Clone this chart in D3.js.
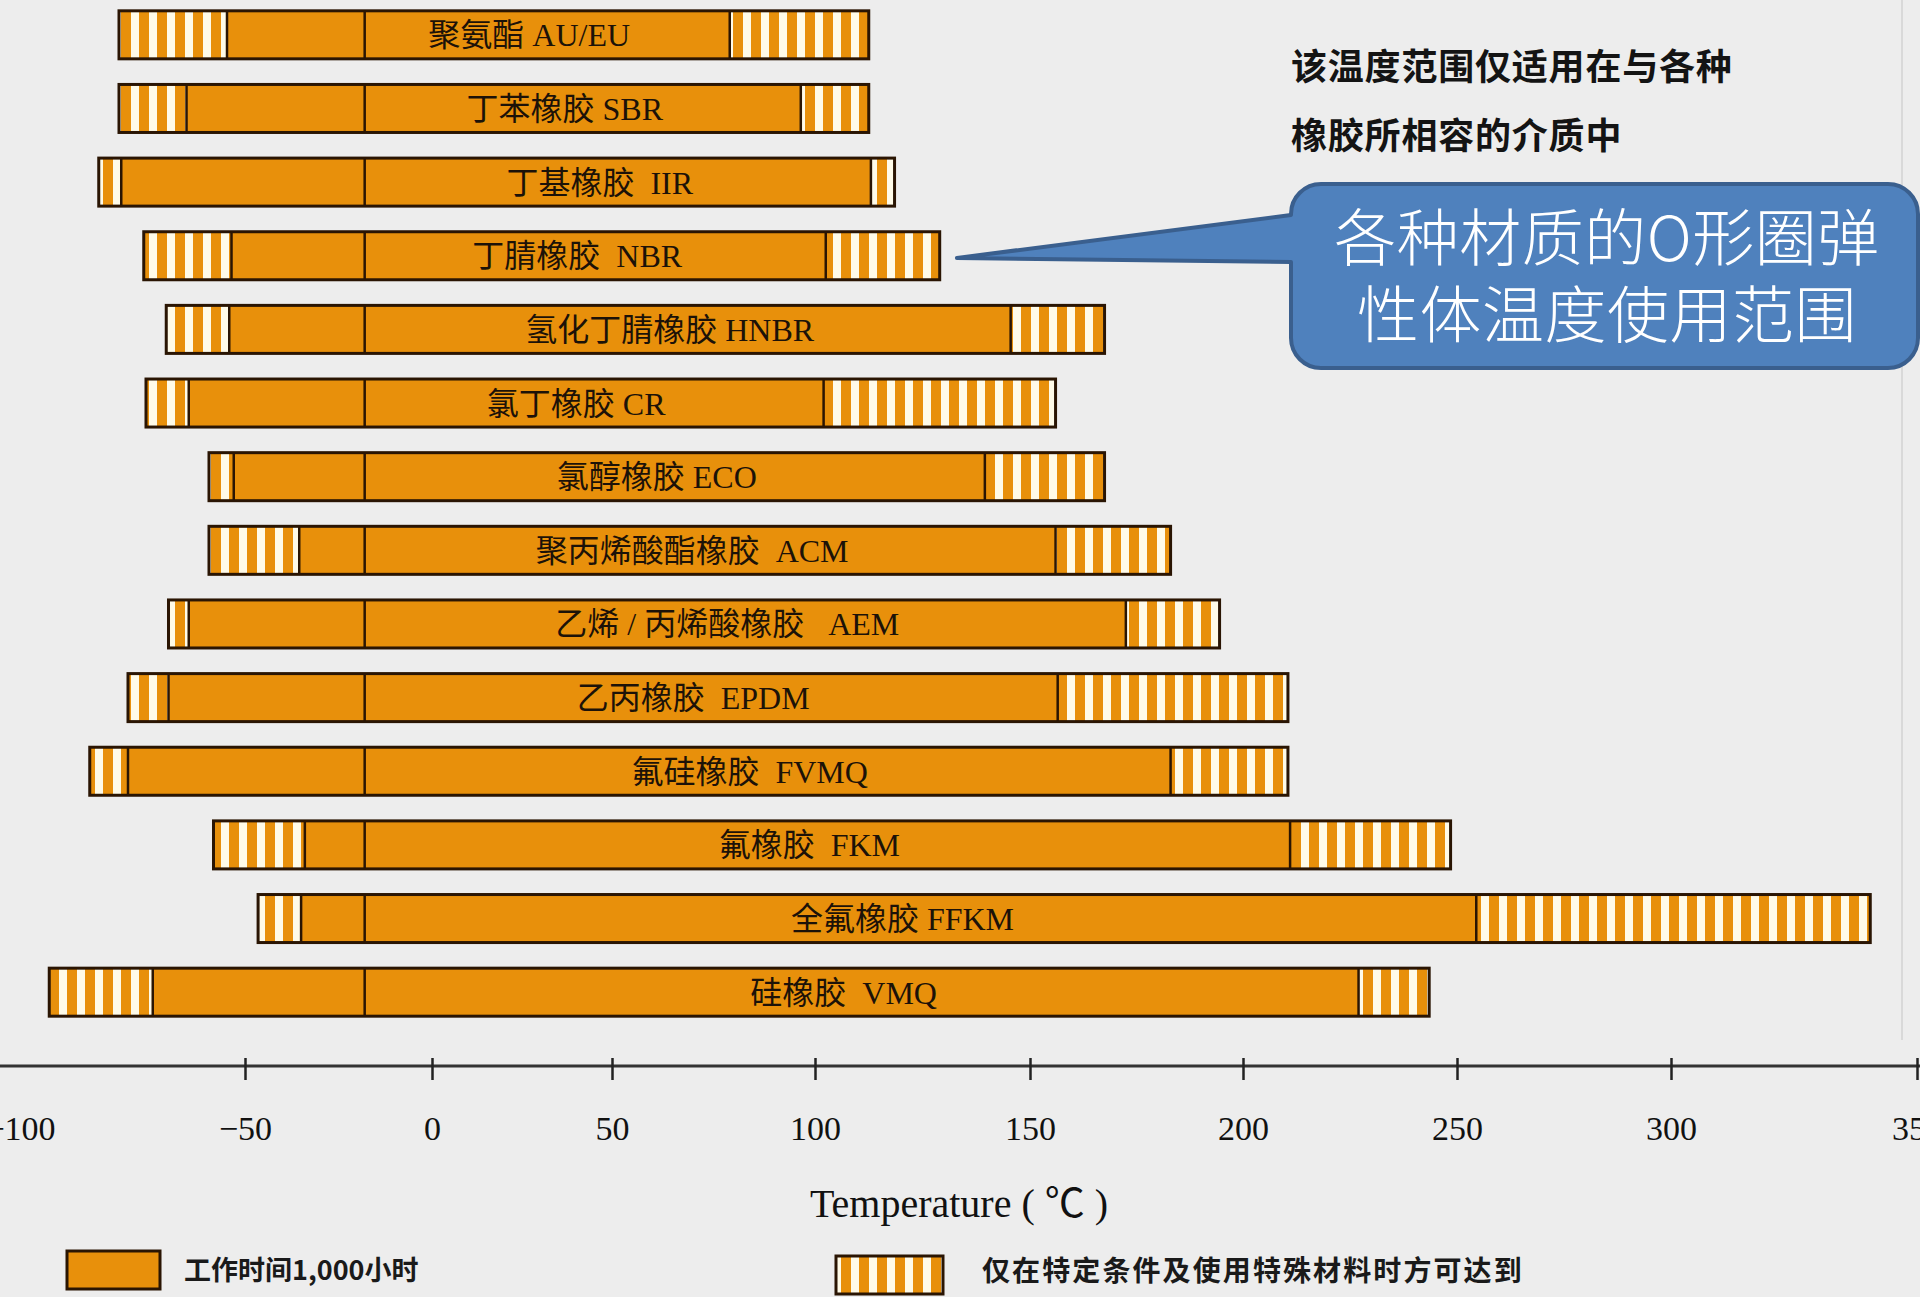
<!DOCTYPE html>
<html>
<head>
<meta charset="utf-8">
<script src="https://cdn.jsdelivr.net/npm/d3@7"></script>
<style>
  html, body { margin: 0; padding: 0; background: #ededed; }
  svg { display: block; }
  text { white-space: pre; }
</style>
</head>
<body>
<svg id="chart" width="1920" height="1297"></svg>
<script>
// O-ring elastomer temperature ranges (°C)
const materials = [
  "聚氨酯 AU/EU", "丁苯橡胶 SBR", "丁基橡胶  IIR", "丁腈橡胶  NBR",
  "氢化丁腈橡胶 HNBR", "氯丁橡胶 CR", "氯醇橡胶 ECO", "聚丙烯酸酯橡胶  ACM",
  "乙烯 / 丙烯酸橡胶   AEM", "乙丙橡胶  EPDM", "氟硅橡胶  FVMQ", "氟橡胶  FKM",
  "全氟橡胶 FFKM", "硅橡胶  VMQ"
];
// lowest temperature reachable only under special conditions
const specialLow  = [-78, -78, -82.5, -72.5, -67.5, -72, -58, -58, -67, -76, -84.5, -57, -46.5, -93.5];
// continuous working range (1,000 h)
const workLow     = [-54, -63, -77.5, -53, -53.5, -62.5, -52.5, -35.5, -62.5, -67, -76, -34, -35, -70.5];
const workHigh    = [79, 96.5, 113, 102.5, 145.5, 102, 139.5, 156, 172.5, 156.5, 183, 211, 254.5, 227];
// highest temperature reachable only under special conditions
const specialHigh = [112.5, 112.5, 118.5, 129, 167.5, 156, 167.5, 183, 194.5, 210.5, 210.5, 248.5, 340.5, 243.5];
// reference line drawn through every bar
const markTemp = -18;

const tickValues = [-100, -50, 0, 50, 100, 150, 200, 250, 300, 350];
const axisTitle = "Temperature ( ℃ )";
const noteLines = ["该温度范围仅适用在与各种", "橡胶所相容的介质中"];
const calloutLines = ["各种材质的O形圈弹", "性体温度使用范围"];
const legendLabels = ["工作时间1,000小时", "仅在特定条件及使用特殊材料时方可达到"];

const ORANGE = "#e8900b";
const CREAM = "#fffbe8";
const INK = "#2a1503";

const svg = d3.select("#chart");

// hatch pattern for the special-condition segments
const defs = svg.append("defs");
const pat = defs.append("pattern")
  .attr("id", "hatch")
  .attr("patternUnits", "userSpaceOnUse")
  .attr("width", 18).attr("height", 20);
pat.append("rect").attr("width", 18).attr("height", 20).attr("fill", ORANGE);
pat.append("rect").attr("x", 5).attr("width", 8).attr("height", 20).attr("fill", CREAM);

// the printed temperature axis is not evenly spaced, so the scale is piecewise
const x = d3.scaleLinear()
  .domain(tickValues)
  .range([20, 245, 432, 612, 815, 1030, 1243, 1457, 1671, 1917]);

const y = d3.scaleBand()
  .domain(materials)
  .range([-2, 1029])
  .paddingInner(0.348)
  .paddingOuter(0.174);

const rows = materials.map((name, i) => ({
  name, lo: specialLow[i], wlo: workLow[i], whi: workHigh[i], hi: specialHigh[i]
}));

// faint frame line at the right
svg.append("line")
  .attr("x1", 1902).attr("x2", 1902).attr("y1", 0).attr("y2", 1040)
  .attr("stroke", "#d9d9d9").attr("stroke-width", 2);

const bars = svg.append("g").selectAll("g.bar")
  .data(rows).join("g").attr("class", "bar")
  .attr("transform", d => `translate(0,${y(d.name)})`);

const bh = y.bandwidth();

bars.append("rect")
  .attr("x", d => x(d.lo)).attr("width", d => x(d.hi) - x(d.lo))
  .attr("height", bh).attr("fill", ORANGE);

bars.append("rect")
  .attr("x", d => x(d.lo)).attr("width", d => x(d.wlo) - x(d.lo))
  .attr("height", bh).attr("fill", "url(#hatch)");

bars.append("rect")
  .attr("x", d => x(d.whi)).attr("width", d => x(d.hi) - x(d.whi))
  .attr("height", bh).attr("fill", "url(#hatch)");

bars.selectAll("line.sep")
  .data(d => [d.wlo, markTemp, d.whi])
  .join("line").attr("class", "sep")
  .attr("x1", v => x(v)).attr("x2", v => x(v))
  .attr("y1", 0).attr("y2", bh)
  .attr("stroke", INK).attr("stroke-width", 2.5);

bars.append("rect")
  .attr("x", d => x(d.lo)).attr("width", d => x(d.hi) - x(d.lo))
  .attr("height", bh).attr("fill", "none")
  .attr("stroke", INK).attr("stroke-width", 3);

bars.append("text")
  .attr("x", d => (x(markTemp) + x(d.whi)) / 2 - 18)
  .attr("y", bh / 2)
  .attr("dy", "0.36em")
  .attr("text-anchor", "middle")
  .attr("font-family", "'Liberation Serif', 'Noto Sans CJK SC', serif")
  .attr("font-size", 32)
  .attr("fill", "#1c1208")
  .text(d => d.name);

// axis
const axisY = 1066;
svg.append("line")
  .attr("x1", 0).attr("x2", 1920).attr("y1", axisY).attr("y2", axisY)
  .attr("stroke", "#333").attr("stroke-width", 3);

const axis = d3.axisBottom(x).tickValues(tickValues).tickSize(0).tickPadding(0);
const gAxis = svg.append("g").attr("transform", `translate(0,${axisY})`).call(axis);
gAxis.select(".domain").remove();
gAxis.selectAll(".tick line")
  .attr("y1", -8).attr("y2", 14)
  .attr("stroke", "#222").attr("stroke-width", 2.5)
  .attr("display", d => d === -100 ? "none" : null);
gAxis.selectAll(".tick text")
  .attr("y", 74).attr("dy", 0)
  .attr("font-family", "'Liberation Serif', serif")
  .attr("font-size", 34)
  .attr("fill", "#111");

svg.append("text")
  .attr("x", 959).attr("y", 1217)
  .attr("text-anchor", "middle")
  .attr("font-family", "'Liberation Serif', 'Noto Sans CJK SC', serif")
  .attr("font-size", 40)
  .attr("fill", "#111")
  .text(axisTitle);

// note at the top right
svg.append("g").selectAll("text")
  .data(noteLines).join("text")
  .attr("x", 1291).attr("y", (d, i) => 80 + i * 69)
  .attr("font-family", "'Noto Sans CJK SC', sans-serif")
  .attr("font-weight", 700)
  .attr("font-size", 36)
  .attr("letter-spacing", 0.8)
  .attr("fill", "#141414")
  .text(d => d);

// callout bubble pointing at the chart
const L = 1291, R = 1918, T = 184, B = 368, r = 30;
const tipX = x(133), tipY = 258;
const bubble = d3.path();
bubble.moveTo(L, 215);
bubble.lineTo(L, T + r);
bubble.arcTo(L, T, L + r, T, r);
bubble.lineTo(R - r, T);
bubble.arcTo(R, T, R, T + r, r);
bubble.lineTo(R, B - r);
bubble.arcTo(R, B, R - r, B, r);
bubble.lineTo(L + r, B);
bubble.arcTo(L, B, L, B - r, r);
bubble.lineTo(L, 262);
bubble.lineTo(tipX, tipY);
bubble.closePath();
svg.append("path")
  .attr("d", bubble.toString())
  .attr("fill", "#4f81bd")
  .attr("stroke", "#3a5f8e")
  .attr("stroke-width", 4)
  .attr("stroke-linejoin", "round");

svg.append("g").selectAll("text")
  .data(calloutLines).join("text")
  .attr("x", 1607).attr("y", (d, i) => 261 + i * 77)
  .attr("text-anchor", "middle")
  .attr("font-family", "'Noto Sans CJK SC', sans-serif")
  .attr("font-weight", 300)
  .attr("font-size", 62)
  .attr("letter-spacing", 0.5)
  .attr("fill", "#ffffff")
  .text(d => d);

// legend
const lg = svg.append("g");
lg.append("rect").attr("x", 67).attr("y", 1251).attr("width", 93).attr("height", 38)
  .attr("fill", ORANGE).attr("stroke", INK).attr("stroke-width", 3);
lg.append("text").attr("x", 184).attr("y", 1280)
  .attr("font-family", "'Noto Sans CJK SC', sans-serif")
  .attr("font-weight", 700).attr("font-size", 27).attr("fill", "#1a1a1a")
  .text(legendLabels[0]);
lg.append("rect").attr("x", 836).attr("y", 1256).attr("width", 107).attr("height", 38)
  .attr("fill", "url(#hatch)").attr("stroke", INK).attr("stroke-width", 3);
lg.append("text").attr("x", 982).attr("y", 1281)
  .attr("font-family", "'Noto Sans CJK SC', sans-serif")
  .attr("font-weight", 700).attr("font-size", 28).attr("letter-spacing", 2.1)
  .attr("fill", "#1a1a1a")
  .text(legendLabels[1]);
</script>
</body>
</html>
